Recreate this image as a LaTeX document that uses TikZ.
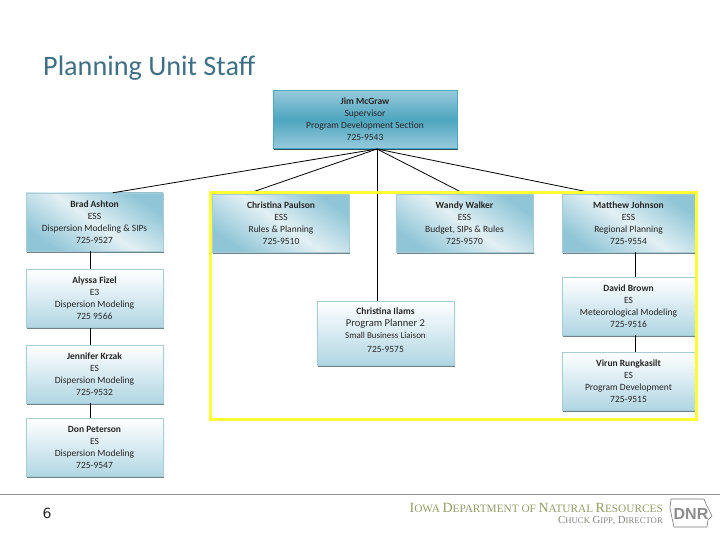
\documentclass[tikz,border=0pt]{standalone}
\usepackage{fontspec}
\setmainfont{Carlito}
\newfontfamily\titlefont{Carlito}
\newfontfamily\pagefont{DejaVu Sans}
\newfontfamily\logofont{Liberation Sans}
\newfontfamily\footfont{Liberation Serif}
\usetikzlibrary{shadows}
\definecolor{titleteal}{HTML}{3F6F85}
\definecolor{boxedge}{HTML}{A9CBD6}
\definecolor{boxdark}{HTML}{8FC5D6}
\definecolor{boxlight}{HTML}{E2F0F4}
\definecolor{boxpale}{HTML}{B0D6E3}
\definecolor{chieftop}{HTML}{97CADB}
\definecolor{chiefmid}{HTML}{4EA5BF}
\definecolor{markyellow}{HTML}{FFFF33}
\definecolor{footolive}{HTML}{959C68}
\definecolor{footgrey}{HTML}{85857A}
\newcommand{\capword}[2]{{\fontsize{14}{14}\selectfont #1}{\fontsize{11.3}{14}\selectfont #2}}
\newcommand{\capwordsm}[2]{{\fontsize{10.8}{11}\selectfont #1}{\fontsize{8.7}{11}\selectfont #2}}
\tikzset{
    staffbox/.style={minimum width=137pt, minimum height=58pt, inner sep=0pt, draw=boxedge, line width=0.4pt,
        align=center, font=\fontsize{9.5}{12}\selectfont, text=black!85,
        general shadow={fill=black!35!boxedge, shadow xshift=0.8pt, shadow yshift=-1.8pt}},
    leadbox/.style={staffbox, top color=boxdark, bottom color=boxdark, middle color=boxlight, shading angle=-35},
    plainbox/.style={staffbox, top color=white, bottom color=boxpale},
    chiefbox/.style={staffbox, minimum width=184pt, draw=chiefmid, top color=chieftop, bottom color=chieftop, middle color=chiefmid,
        general shadow={fill=black!50!chiefmid, shadow xshift=1.2pt, shadow yshift=-2pt}},
    link/.style={black, line width=0.8pt},
}
\begin{document}
\begin{tikzpicture}[x=1pt,y=-1pt]
    \useasboundingbox (0,0) rectangle (720,540);

    % Title and page number
    \node[anchor=west, text=titleteal, font=\titlefont\fontsize{28.2}{30}\selectfont, inner sep=0pt] (title) at (43,68) {Planning Unit Staff};
    \node[font=\pagefont\fontsize{14}{15}\selectfont, text=black!85] (page) at (47,513) {6};

    % Staff boxes
    \node[chiefbox] (mcgraw) at (365,119.5) {\textbf{Jim McGraw}\\Supervisor\\Program Development Section\\725-9543};
    \coordinate (hub) at (377,149);

    \node[leadbox] (ashton) at (94.5,222) {\textbf{Brad Ashton}\\ESS\\Dispersion Modeling \& SIPs\\725-9527};
    \node[plainbox] (fizel) at (94.5,298.5) {\textbf{Alyssa Fizel}\\E3\\Dispersion Modeling\\725 9566};
    \node[plainbox] (krzak) at (94.5,374) {\textbf{Jennifer Krzak}\\ES\\Dispersion Modeling\\725-9532};
    \node[plainbox] (peterson) at (94.5,447.5) {\textbf{Don Peterson}\\ES\\Dispersion Modeling\\725-9547};

    \node[leadbox] (paulson) at (281,223) {\textbf{Christina Paulson}\\ESS\\Rules \& Planning\\725-9510};
    \node[leadbox] (walker) at (464.5,223) {\textbf{Wandy Walker}\\ESS\\Budget, SIPs \& Rules\\725-9570};
    \node[leadbox, minimum width=133pt] (johnson) at (628.5,223) {\textbf{Matthew Johnson}\\ESS\\Regional Planning\\725-9554};
    \node[plainbox, minimum width=133pt] (brown) at (628.5,306) {\textbf{David Brown}\\ES\\Meteorological Modeling\\725-9516};
    \node[plainbox, minimum width=133pt] (rungkasilt) at (628.5,381) {\textbf{Virun Rungkasilt}\\ES\\Program Development\\725-9515};
    \node[plainbox, minimum height=64pt] (ilams) at (385.5,333) {\textbf{Christina Ilams}\\{\fontsize{10.5}{12}\selectfont Program Planner 2}\\{\fontsize{9}{12}\selectfont Small Business Liaison}\\[2pt]725-9575\\[-6pt]\mbox{}};

    % Connectors
    \draw[link] (hub) -- (ashton.58);
    \draw[link] (hub) -- (paulson.139);
    \draw[link] (hub) -- (walker.north);
    \draw[link] (hub) -- (johnson.137);
    \draw[link] (hub) -- (hub |- ilams.north);

    \draw[link] ([xshift=-4pt]ashton.south) -- ([xshift=-4pt]fizel.north);
    \draw[link] ([xshift=-4pt]fizel.south) -- ([xshift=-4pt]krzak.north);
    \draw[link] ([xshift=-4pt]krzak.south) -- ([xshift=-4pt]peterson.north);
    \draw[link] ([xshift=7pt]johnson.south) -- ([xshift=7pt]brown.north);
    \draw[link] ([xshift=7pt]brown.south) -- ([xshift=7pt]rungkasilt.north);

    % Yellow highlight
    \draw[markyellow, line width=3pt] (210.5,192.5) rectangle (696.5,419.5);

    % Footer
    \draw[footgrey!90, line width=0.8pt] (0,494) -- (720,494);
    \node[anchor=east, text=footolive, font=\footfont, inner sep=0pt] (dept) at (663,507.5)
        {\capword{I}{OWA} \capword{D}{EPARTMENT OF} \capword{N}{ATURAL} \capword{R}{ESOURCES}};
    \node[anchor=east, text=footgrey, font=\footfont, inner sep=0pt] (chief) at (663,521)
        {\capwordsm{C}{HUCK} \capwordsm{G}{IPP}, \capwordsm{D}{IRECTOR}};

    % Logo
    \draw[black!55, line width=0.6pt] (671,499) -- (704,499) -- (706,504) -- (709,510) -- (712,516) -- (708,520) -- (707,527) -- (674,527) -- (672,518) -- (670,508) -- cycle;
    \node[font=\logofont\bfseries\fontsize{16}{16}\selectfont, text=black!45, inner sep=0pt] (logo) at (691,514) {DNR};
\end{tikzpicture}
\end{document}
